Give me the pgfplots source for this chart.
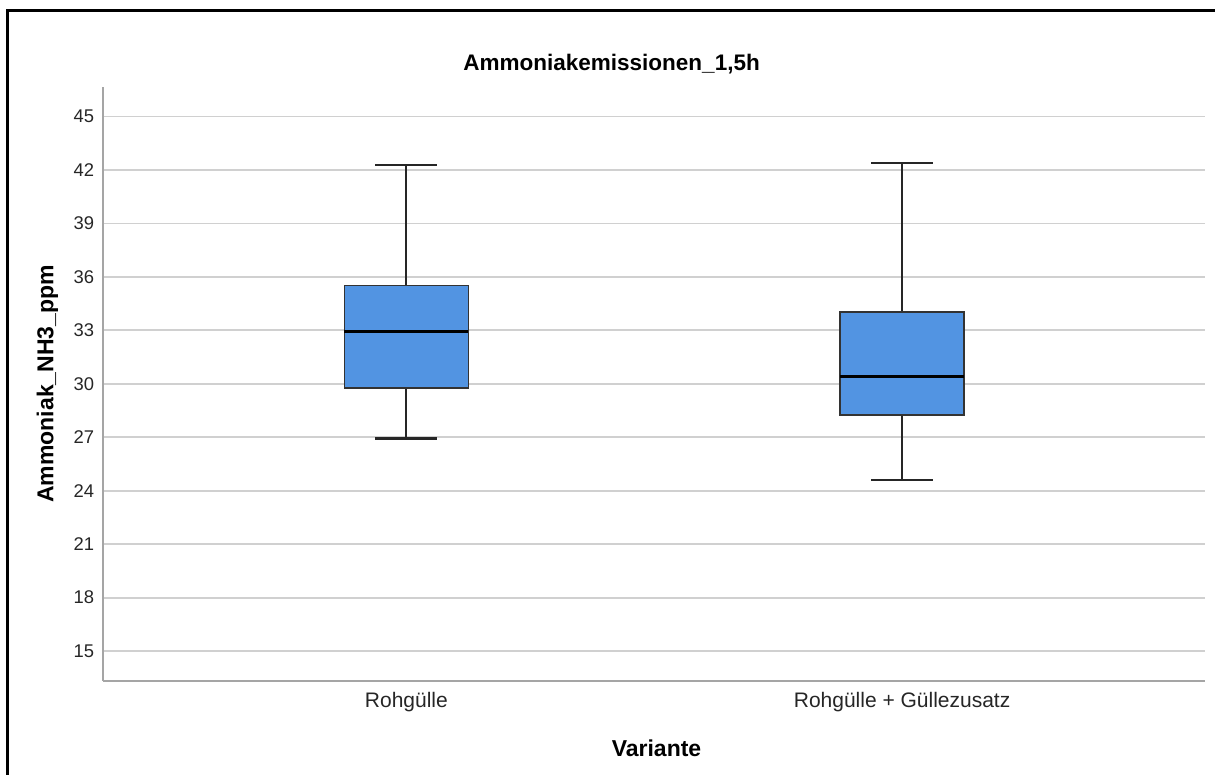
\documentclass[border=0pt]{standalone}
\usepackage{fontspec}
\setmainfont{Liberation Sans}
\usepackage{pgfplots}
\pgfplotsset{compat=1.18}
\usepgfplotslibrary{statistics}
\definecolor{boxblue}{RGB}{82,148,226}
\definecolor{gridc}{RGB}{208,208,208}
\definecolor{spinec}{RGB}{165,165,165}
\begin{document}
\begin{tikzpicture}
\useasboundingbox (0,0) rectangle (607.5pt,387.5pt);
\draw[line width=1.3pt] (3.75pt,-2pt) -- (3.75pt,382.25pt) -- (612pt,382.25pt);
\begin{axis}[
  at={(51.5pt,47pt)}, anchor=south west,
  scale only axis, width=551pt, height=297pt,
  xmin=0.388, xmax=2.611, ymin=13.32, ymax=46.66,
  axis x line*=bottom, axis y line*=left,
  axis line style={-, draw=spinec, line width=1.2pt},
  xtick={1,2}, xticklabels={Rohgülle, Rohgülle + Güllezusatz},
  ytick={15,18,...,45},
  major tick length=0pt,
  ymajorgrids, grid style={draw=gridc, line width=0.9pt},
  /pgf/number format/assume math mode=true,
  yticklabel style={font=\fontsize{9.2}{10}\selectfont, inner sep=0pt, xshift=-4.3pt, text=black!85},
  xticklabel style={font=\fontsize{10.5}{12}\selectfont, inner sep=0pt, anchor=north, yshift=-5.5pt, text=black!85},
  boxplot/draw direction=y,
  boxplot/every box/.style={draw=black!80, fill=boxblue, line width=0.7pt},
  boxplot/every whisker/.style={draw=black!85, line width=1.1pt},
  boxplot/every median/.style={draw=black, line width=1.8pt},
]
\addplot[boxplot prepared={lower whisker=26.93, lower quartile=29.76, median=32.94, upper quartile=35.52, upper whisker=42.3, draw position=1, box extend=0.25, whisker extend=0.125}] coordinates {};
\addplot[boxplot prepared={lower whisker=24.6, lower quartile=28.24, median=30.41, upper quartile=34.03, upper whisker=42.38, draw position=2, box extend=0.25, whisker extend=0.125}] coordinates {};
\end{axis}
\node[anchor=base, font=\bfseries\fontsize{11.25}{13}\selectfont] at (305.8pt,352pt) {Ammoniakemissionen\_1,5h};
\node[anchor=base, font=\bfseries\fontsize{11.5}{13}\selectfont] at (328.25pt,9.15pt) {Variante};
\node[rotate=90, anchor=base, font=\bfseries\fontsize{11.5}{13}\selectfont] at (26.7pt,195.6pt) {Ammoniak\_NH3\_ppm};
\end{tikzpicture}
\end{document}
